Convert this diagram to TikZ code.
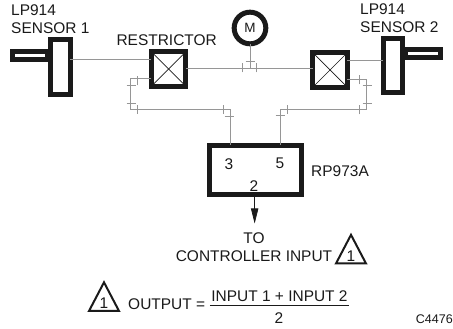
\documentclass[tikz,border=0pt]{standalone}
\usepackage{fontspec}
\setmainfont{Liberation Sans}
\usepackage{xcolor}
\usetikzlibrary{
  arrows.meta,
  positioning,
  calc,
}
\definecolor{ink}{HTML}{1A1A1A}
\definecolor{pipe}{HTML}{969696}
\tikzset{
  font=\fontsize{13.2}{15.3}\selectfont,
  every node/.append style={text=ink},
  lbl/.style={inner sep=0pt, align=#1},
  lbl/.default=center,
  heavy/.style={draw=ink, fill=white, line width=0.15cm, outer sep=0pt, inner sep=0pt},
  sensorbody/.style={heavy, minimum width=0.585cm, minimum height=1.635cm},
  sensorstem/.style={heavy, minimum width=1.05cm, minimum height=0.24cm},
  valvebox/.style={heavy, minimum size=1.035cm},
  tube/.style={draw=pipe, line width=0.45pt},
  pics/flag/.style={
    code={
      \draw[ink, line width=0.06cm, line join=miter]
        (-0.45,0) -- (0,0.86) -- (0.45,0) -- cycle;
      \node[lbl] (-num) at (0,0.225) {#1};
    }
  },
}
\begin{document}
\begin{tikzpicture}[x=1cm,y=1cm]
  \fill[white] (0,0) rectangle (13.59,9.87);
  \useasboundingbox (0,0) rectangle (13.59,9.87);

  % sensors
  \node[sensorstem] (stema) at (0.91,8.205) {};
  \node[sensorbody] (sensora) at (1.81,7.86) {};
  \node[sensorstem] (stemb) at (12.68,8.25) {};
  \node[sensorbody] (sensorb) at (11.79,7.905) {};
  \node[lbl=left, anchor=west] (laba) at (0.33,9.30) {LP914\\SENSOR 1};
  \node[lbl=left, anchor=west] (labb) at (10.80,9.33) {LP914\\SENSOR 2};

  % restrictors
  \node[valvebox] (restrictora) at (5.06,7.80) {};
  \node[valvebox] (restrictorb) at (9.90,7.77) {};
  \foreach \v in {restrictora,restrictorb} {
    \draw[ink, line width=0.6pt] (\v.north west) -- (\v.south east);
    \draw[ink, line width=0.6pt] (\v.north east) -- (\v.south west);
  }
  \node[lbl] (labr) at (5.00,8.67) {RESTRICTOR};

  % motor
  \node[heavy, circle, minimum size=0.95cm, font=\fontsize{11.5}{13}\selectfont] (motor) at (7.50,9.03) {M};

  % transmitter block
  \node[heavy, minimum width=2.745cm, minimum height=1.47cm] (block) at (7.66,4.77) {};
  \node[lbl] (porta) at (6.87,4.95) {3};
  \node[lbl] (portb) at (8.40,4.98) {5};
  \node[lbl] (portc) at (7.62,4.29) {2};
  \node[lbl, anchor=west] (labm) at (9.33,4.74) {RP973A};

  % main line
  \coordinate (feeda) at (0,8.10);
  \coordinate (feedb) at (0,8.07);
  \coordinate (tee) at (0,7.83);
  \draw[tube] (sensora.east |- feeda) -- (restrictora.west |- feeda);
  \draw[tube] (restrictorb.east |- feedb) -- (sensorb.west |- feedb);
  \draw[tube] (restrictora.east |- tee) -- (restrictorb.west |- tee);
  \draw[tube] (motor.south) -- (motor.south |- tee);

  % sense tubes
  \coordinate (tubea) at (3.90,7.515);
  \coordinate (tubeb) at (3.90,6.60);
  \coordinate (tubec) at (6.90,6.60);
  \coordinate (tubed) at (10.98,7.485);
  \coordinate (tubee) at (10.98,6.60);
  \coordinate (tubef) at (8.40,6.60);
  \draw[tube] (restrictora.west |- tubea) -- (tubea) -- (tubeb) -- (tubec) -- (tubec |- block.north);
  \draw[tube] (restrictorb.east |- tubed) -- (tubed) -- (tubee) -- (tubef) -- (tubef |- block.north);

  % fitting ticks
  \foreach \x/\y in {4.11/7.44, 4.11/6.585, 6.69/6.585, 10.77/7.47, 10.77/6.57, 8.61/6.585, 7.275/7.83, 7.68/7.83} {
    \draw[tube] (\x,\y-0.135) -- (\x,\y+0.135);
  }
  \foreach \x/\y in {3.93/7.32, 3.93/6.78, 6.87/6.39, 11.01/7.32, 11.01/6.78, 8.40/6.42, 7.50/8.04} {
    \draw[tube] (\x-0.135,\y) -- (\x+0.135,\y);
  }

  % output
  \coordinate (outend) at (7.64,3.165);
  \draw[ink, line width=0.6pt, -{Triangle[length=0.45cm,width=0.22cm]}] (outend |- block.south) -- (outend);
  \node[lbl] (dest) at (7.62,2.46) {TO\\CONTROLLER INPUT};
  \pic (flaga) at (10.53,1.965) {flag=1};

  % formula
  \pic (flagb) at (3.12,0.54) {flag=1};
  \node[lbl, anchor=west] (outp) at (3.84,0.75) {OUTPUT =};
  \node[inner xsep=0.04cm, inner ysep=0.105cm] (fracnum) at (8.385,0.99) {INPUT 1 + INPUT 2};
  \draw[ink, line width=0.7pt] (fracnum.south west) -- (fracnum.south east);
  \node[lbl] (fracden) at (8.37,0.33) {2};
  \node[lbl, anchor=east, font=\fontsize{10.7}{13}\selectfont] (code) at (13.59,0.30) {C4476};
\end{tikzpicture}
\end{document}
